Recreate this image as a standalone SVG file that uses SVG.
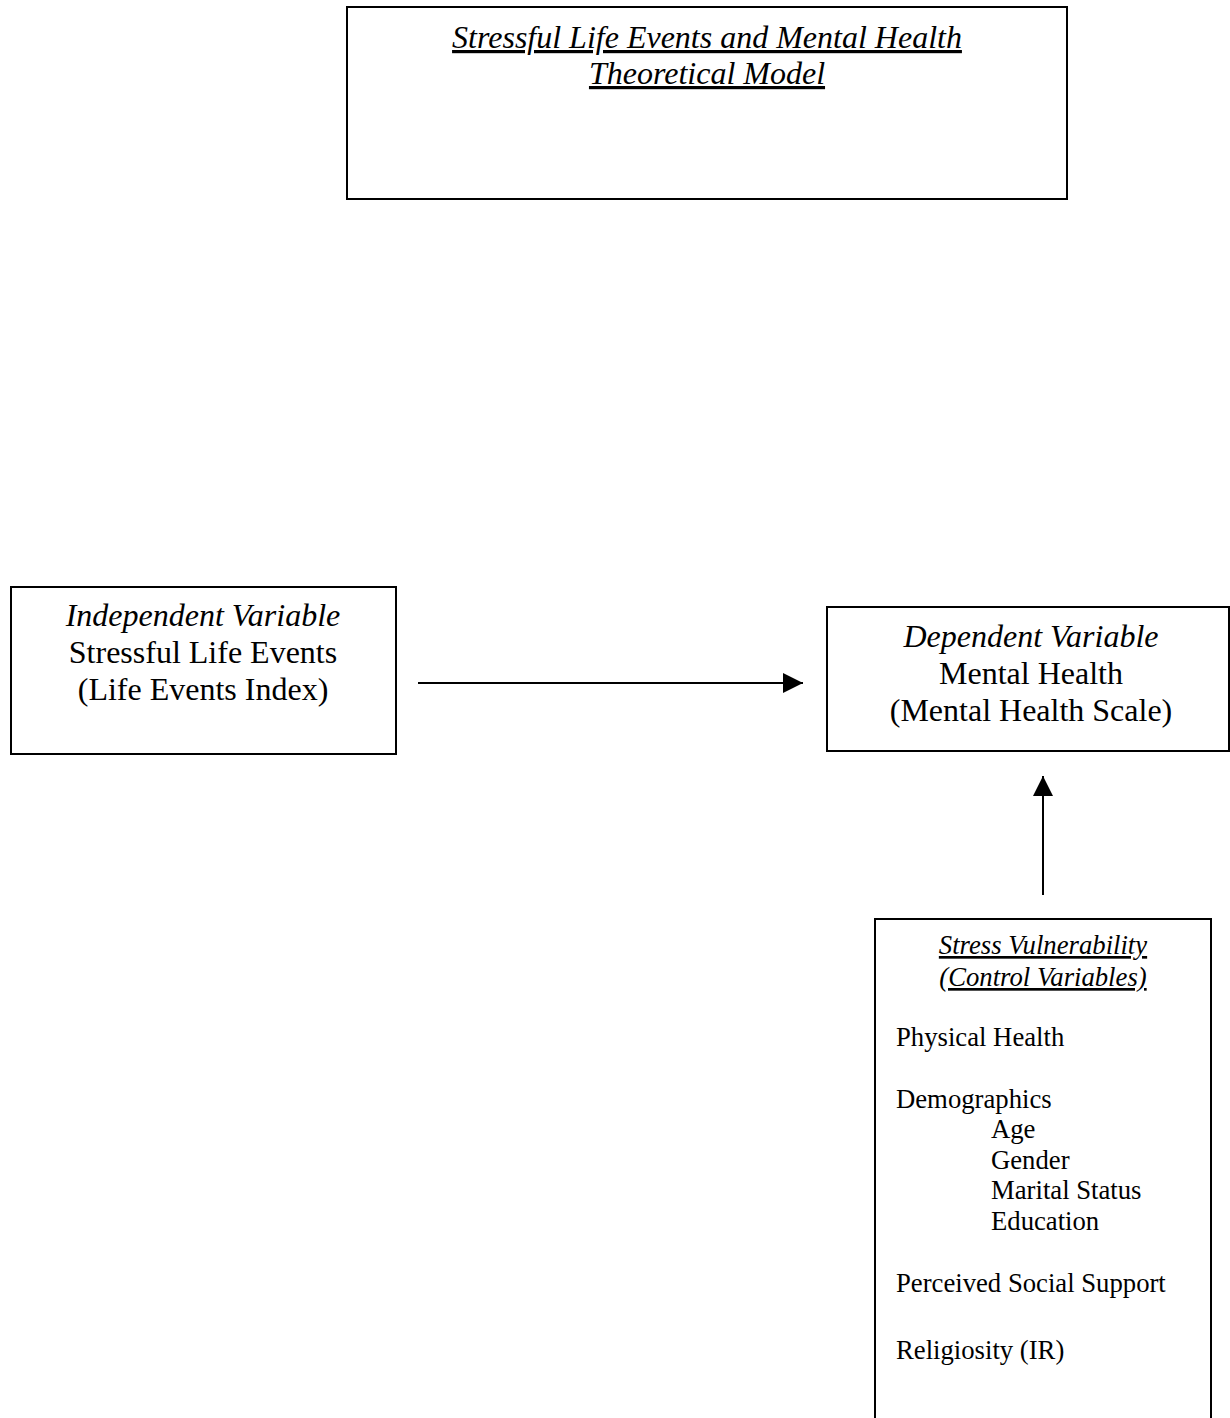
<svg xmlns="http://www.w3.org/2000/svg" width="1230" height="1418" viewBox="0 0 1230 1418">
<defs>
<marker id="ah" markerWidth="20" markerHeight="20" refX="20" refY="10" orient="auto" markerUnits="userSpaceOnUse">
<path d="M0,0 L20,10 L0,20 Z" fill="#000"/>
</marker>
<style>
.box{fill:#fff;stroke:#000;stroke-width:2}
text{font-family:"Liberation Serif","Times New Roman",serif;fill:#000}
.c{text-anchor:middle}
.i{font-style:italic}
.u{text-decoration:underline}
.big{font-size:32px}
.sm{font-size:26.7px}
.conn{stroke:#000;stroke-width:2;fill:none}
</style>
</defs>
<rect width="1230" height="1418" fill="#fff"/>
<g id="title">
<rect class="box" x="347" y="7" width="720" height="192"/>
<text class="c i u big" x="707" y="48">Stressful Life Events and Mental Health</text>
<text class="c i u big" x="707" y="84">Theoretical Model</text>
</g>
<g id="independent">
<rect class="box" x="11" y="587" width="385" height="167"/>
<text class="c i big" x="203" y="626">Independent Variable</text>
<text class="c big" x="203" y="663">Stressful Life Events</text>
<text class="c big" x="203" y="700">(Life Events Index)</text>
</g>
<g id="dependent">
<rect class="box" x="827" y="607" width="402" height="144"/>
<text class="c i big" x="1031" y="647">Dependent Variable</text>
<text class="c big" x="1031" y="684">Mental Health</text>
<text class="c big" x="1031" y="721">(Mental Health Scale)</text>
</g>
<g id="controls">
<path class="box" d="M875,1420 V919 H1211 V1420"/>
<text class="c i u sm" x="1043" y="954">Stress Vulnerability</text>
<text class="c i u sm" x="1043" y="986">(Control Variables)</text>
<text class="sm" x="896" y="1046">Physical Health</text>
<text class="sm" x="896" y="1108">Demographics</text>
<text class="sm" x="991" y="1138">Age</text>
<text class="sm" x="991" y="1169">Gender</text>
<text class="sm" x="991" y="1199">Marital Status</text>
<text class="sm" x="991" y="1230">Education</text>
<text class="sm" x="896" y="1292">Perceived Social Support</text>
<text class="sm" x="896" y="1359">Religiosity (IR)</text>
</g>
<g id="connectors">
<line class="conn" x1="418" y1="683" x2="803" y2="683" marker-end="url(#ah)"/>
<line class="conn" x1="1043" y1="895" x2="1043" y2="776" marker-end="url(#ah)"/>
</g>
</svg>
